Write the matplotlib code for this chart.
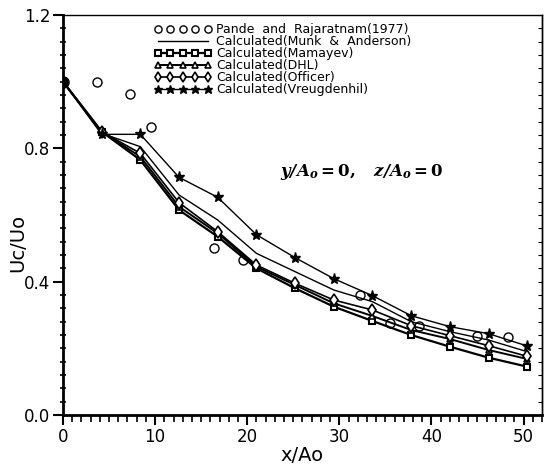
import numpy as np
import matplotlib
matplotlib.use("Agg")
import matplotlib.pyplot as plt
from matplotlib.ticker import MultipleLocator

plt.rcParams['font.family'] = ['DejaVu Sans']
plt.rcParams['mathtext.fontset'] = 'dejavuserif'

# data
x_calc = [0, 4.2, 8.4, 12.6, 16.8, 21.0, 25.2, 29.4, 33.6, 37.8, 42.0, 46.2, 50.4]
munk = [1.0, 0.845, 0.805, 0.66, 0.585, 0.485, 0.43, 0.375, 0.34, 0.28, 0.25, 0.225, 0.19]
mamayev = [1.0, 0.85, 0.765, 0.615, 0.535, 0.44, 0.38, 0.325, 0.282, 0.24, 0.205, 0.172, 0.145]
dhl = [1.0, 0.85, 0.775, 0.625, 0.545, 0.445, 0.39, 0.335, 0.297, 0.255, 0.228, 0.195, 0.168]
officer = [1.0, 0.85, 0.785, 0.637, 0.55, 0.45, 0.395, 0.345, 0.315, 0.268, 0.238, 0.208, 0.176]
vreugdenhil = [1.0, 0.842, 0.842, 0.713, 0.653, 0.541, 0.472, 0.409, 0.358, 0.298, 0.265, 0.244, 0.207]

x_pande = [3.7, 7.3, 9.6, 16.4, 19.5, 32.2, 35.5, 38.7, 45.0, 48.3]
pande = [1.0, 0.962, 0.863, 0.502, 0.466, 0.361, 0.277, 0.268, 0.238, 0.234]

y_ticks = [0.0, 0.4, 0.8, 1.2]
x_ticks = [0, 10, 20, 30, 40, 50]

fig = plt.figure(figsize=(5.5, 4.73), dpi=100)
ax = fig.add_axes([0.1145, 0.1226, 0.8709, 0.8457])

ax.plot(x_pande, pande, ls='none', marker='o', ms=6.5, mfc='white', mec='black', mew=1.0,
        label='Pande  and  Rajaratnam(1977)')
ax.plot(x_calc, munk, color='black', lw=1.0, label='Calculated(Munk  &  Anderson)')
ax.plot(x_calc, mamayev, color='black', lw=1.6, marker='s', ms=5, mfc='white', mec='black', mew=1.5,
        label='Calculated(Mamayev)')
ax.plot(x_calc, dhl, color='black', lw=1.4, marker='^', ms=5, mfc='white', mec='black', mew=1.2,
        label='Calculated(DHL)')
ax.plot(x_calc, officer, color='black', lw=1.2, marker='d', ms=6, mfc='white', mec='black', mew=1.2,
        label='Calculated(Officer)')
ax.plot(x_calc, vreugdenhil, color='black', lw=1.0, marker='*', ms=8, mfc='black', mec='black',
        label='Calculated(Vreugdenhil)')
ax.plot([0], [1.0], marker='o', ms=8, color='black')

ax.set_xlim(0, 52)
ax.set_ylim(0, 1.2)
ax.set_xticks(x_ticks)
ax.set_yticks(y_ticks)
ax.set_yticklabels([f"{v:.1f}" for v in y_ticks])
ax.xaxis.set_minor_locator(MultipleLocator(1))
ax.yaxis.set_minor_locator(MultipleLocator(0.04))
ax.tick_params(axis='both', which='major', labelsize=12, width=1.5, length=7, direction='out', pad=2)
ax.tick_params(axis='x', which='minor', width=1.2, length=5, direction='out')
ax.tick_params(axis='y', which='minor', width=1.2, length=5, direction='inout')

right = ax.secondary_yaxis('right')
right.yaxis.set_major_locator(MultipleLocator(0.04))
right.tick_params(direction='in', length=3, width=0.8, labelright=False)

for side in ['left', 'bottom']:
    ax.spines[side].set_linewidth(2.0)
for side in ['top', 'right']:
    ax.spines[side].set_linewidth(1.0)
right.spines['right'].set_linewidth(1.0)

ax.set_xlabel('x/Ao', fontsize=14, labelpad=0)
ax.set_ylabel('Uc/Uo', fontsize=14)
ax.yaxis.set_label_coords(-0.075, 0.43)

ax.text(23.6, 0.73, r'$\mathbfit{y/A_o}\mathbf{=0,}\quad\mathbfit{z/A_o}\mathbf{=0}$',
        fontsize=12, va='center', ha='left')

ax.legend(loc='upper left', bbox_to_anchor=(0.19, 0.98), frameon=False, fontsize=9,
          numpoints=5, handlelength=4.6, handletextpad=0.35, labelspacing=-0.08,
          markerscale=0.8, borderpad=0, borderaxespad=0)

fig.savefig('out.png', dpi=100)
